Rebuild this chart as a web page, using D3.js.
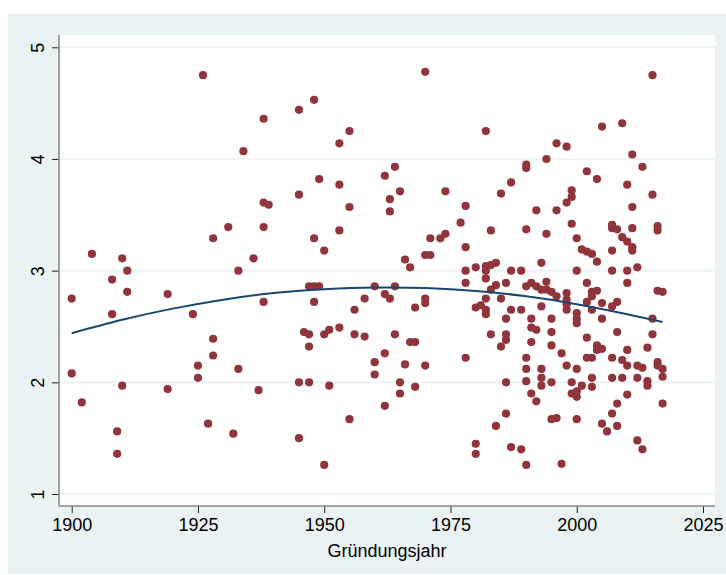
<!DOCTYPE html>
<html><head><meta charset="utf-8">
<script src="https://cdn.jsdelivr.net/npm/d3@7"></script>
<style>html,body{margin:0;padding:0;background:#fff}svg{display:block}</style>
</head><body>
<svg id="c" width="726" height="575"></svg>
<script>
const xTicks = [1900, 1925, 1950, 1975, 2000, 2025];
const yTicks = [1, 2, 3, 4, 5];
const xTitle = "Gründungsjahr";

const years = [
1926,1904,1910,1911,1928,1931,1908,1911,1900,1919,1908,1924,1928,1928,1925,1925,1900,1910,1919,1902,1927,1909,1909,1932,1933,
1934,1938,1945,1948,1953,1955,1962,1949,1953,1945,1938,1939,1955,1938,1948,1953,1950,1936,1933,
1938,1947,1948,1949,1948,1960,1962,1956,1958,1946,1947,1947,1950,1951,1953,1956,1958,1960,1960,1962,1945,1947,1937,1951,1955,1962,1945,1950,
1970,1982,1964,1965,1963,1963,1974,1978,1977,1983,1985,1987,1990,1990,1992,1990,1994,1994,1971,1973,1974,1970,1971,1966,1967,1978,1993,
1978,1978,1980,1982,1982,1983,1984,1982,1987,1989,1986,1983,1984,1982,1985,1980,1981,1982,1982,1987,1989,1986,1990,1991,1992,1993,1993,1991,1991,1992,1991,
1964,1963,1968,1970,1970,1964,1967,1968,1966,1970,1965,1965,1968,1978,1983,1986,1986,1985,1990,1990,1990,1986,1993,1993,1993,1991,1992,1986,1984,1980,1980,1987,1989,1990,
2015,2005,2009,1996,1998,2011,2013,2002,2004,2010,2015,1999,1999,1998,2011,1996,1999,2000,2007,2007,2008,2011,2016,2016,2009,2010,2011,2011,2001,2002,2003,2004,2007,2000,2007,2010,2012,
2010,2002,1994,1994,1995,1996,1998,1998,1998,1998,2000,2000,2000,2002,2003,2003,2004,2003,2005,2005,2007,2008,1995,1995,1995,1997,2002,2004,2005,2004,2003,2002,2008,2007,2010,2009,2010,
2015,2015,2014,2016,2017,2016,2016,2017,2017,2017,2012,2013,2012,2014,2014,2007,2009,2010,2008,2007,2008,2005,2006,2012,2013,2000,1995,1996,1997,1995,1999,1999,2000,2000,2001,2003,2003,1998,2000
];
const values = [
4.75,3.15,3.11,3.00,3.29,3.39,2.92,2.81,2.75,2.79,2.61,2.61,2.39,2.24,2.15,2.04,2.08,1.97,1.94,1.82,1.63,1.56,1.36,1.54,2.12,
4.07,4.36,4.44,4.53,4.14,4.25,3.85,3.82,3.77,3.68,3.61,3.59,3.57,3.39,3.29,3.36,3.18,3.11,3.00,
2.72,2.86,2.86,2.86,2.72,2.86,2.79,2.65,2.75,2.45,2.43,2.32,2.43,2.47,2.49,2.43,2.41,2.18,2.07,2.26,2.00,2.00,1.93,1.97,1.67,1.79,1.50,1.26,
4.78,4.25,3.93,3.71,3.64,3.53,3.71,3.58,3.43,3.36,3.69,3.79,3.95,3.92,3.54,3.37,4.00,3.33,3.29,3.29,3.33,3.14,3.14,3.10,3.03,3.21,3.07,
3.00,2.89,3.03,3.04,3.00,3.05,3.07,2.93,3.00,3.00,2.89,2.83,2.87,2.75,2.75,2.67,2.69,2.65,2.61,2.65,2.65,2.57,2.86,2.89,2.86,2.83,2.68,2.57,2.49,2.47,2.36,
2.86,2.75,2.67,2.75,2.71,2.43,2.36,2.36,2.16,2.15,2.00,1.90,1.96,2.22,2.43,2.43,2.38,2.32,2.22,2.12,2.01,2.00,2.12,2.04,1.97,1.90,1.83,1.72,1.61,1.45,1.36,1.42,1.40,1.26,
4.75,4.29,4.32,4.14,4.11,4.04,3.93,3.89,3.82,3.77,3.68,3.72,3.66,3.61,3.57,3.54,3.42,3.29,3.41,3.38,3.37,3.38,3.40,3.36,3.30,3.26,3.21,3.18,3.19,3.17,3.15,3.08,3.18,3.00,3.00,3.00,3.03,
2.89,2.89,2.90,2.83,2.81,2.77,2.80,2.74,2.70,2.65,2.62,2.57,2.53,2.72,2.77,2.81,2.82,2.65,2.71,2.57,2.68,2.72,2.57,2.45,2.33,2.26,2.40,2.33,2.30,2.29,2.22,2.22,2.45,2.22,2.29,2.20,2.15,
2.57,2.43,2.31,2.82,2.81,2.18,2.15,2.12,2.05,1.81,2.15,2.13,2.04,2.01,1.97,2.04,2.04,1.89,1.81,1.72,1.61,1.63,1.56,1.48,1.40,1.67,1.67,1.68,1.27,2.00,2.00,1.90,1.87,1.92,1.97,2.04,1.96,2.15,2.12
];
const fitYears  = [1900,1910,1920,1930,1940,1950,1960,1970,1980,1990,2000,2010,2017];
const fitValues = [2.44,2.56,2.66,2.74,2.80,2.833,2.849,2.844,2.818,2.77,2.70,2.61,2.54];

const svg = d3.select("#c");
const font = "'Liberation Sans', Arial, Helvetica, sans-serif";

// outer graph region
svg.append("rect").attr("x",8).attr("y",14).attr("width",718).attr("height",560).attr("fill","#EAF2F3");
// plot region
const PL=59, PR=715, PT=35, PB=506;
svg.append("rect").attr("x",PL).attr("y",PT).attr("width",PR-PL).attr("height",PB-PT).attr("fill","#fff");

const x = d3.scaleLinear().domain([1900,2025]).range([71.7,703]);
const y = d3.scaleLinear().domain([1,5]).range([494,47.3]);

// gridlines
svg.append("g").selectAll("line").data(yTicks).join("line")
  .attr("x1",PL).attr("x2",PR).attr("y1",d=>y(d)).attr("y2",d=>y(d))
  .attr("stroke","#EAF2F3").attr("stroke-width",1.6);

// points
svg.append("g").selectAll("circle").data(years.map((d,i)=>[d,values[i]])).join("circle")
  .attr("cx",d=>x(d[0])).attr("cy",d=>y(d[1])).attr("r",4.1).attr("fill","#90353B");

// fit line
const line = d3.line().x((d,i)=>x(fitYears[i])).y(d=>y(d)).curve(d3.curveNatural);
svg.append("path").attr("d",line(fitValues)).attr("fill","none").attr("stroke","#1A476F").attr("stroke-width",2);

// axes
const xa = svg.append("g").attr("transform",`translate(0,${PB})`)
  .call(d3.axisBottom(x).tickValues(xTicks).tickFormat(d3.format("d")).tickSize(7).tickPadding(4));
xa.select(".domain").remove();
xa.selectAll(".tick line").attr("stroke","#222").attr("stroke-width",1);
xa.selectAll(".tick text").attr("font-family",font).attr("font-size",18).attr("fill","#000").attr("dy","0.78em");

const ya = svg.append("g").attr("transform",`translate(${PL},0)`)
  .call(d3.axisLeft(y).tickValues(yTicks).tickFormat(d3.format("d")).tickSize(7).tickPadding(0));
ya.select(".domain").remove();
ya.selectAll(".tick line").attr("stroke","#222").attr("stroke-width",1);
ya.selectAll(".tick text").attr("font-family",font).attr("font-size",18).attr("fill","#000")
  .attr("text-anchor","middle").attr("x",null).attr("dy",null)
  .attr("transform","translate(-15,0) rotate(-90)");

svg.append("line").attr("x1",PL).attr("x2",PL).attr("y1",PT).attr("y2",PB).attr("stroke","#888").attr("stroke-width",1.6);
svg.append("line").attr("x1",PL).attr("x2",PR).attr("y1",PB).attr("y2",PB).attr("stroke","#888").attr("stroke-width",1.6);

svg.append("text").attr("x",(PL+PR)/2).attr("y",557).attr("text-anchor","middle")
  .attr("font-family",font).attr("font-size",18).attr("fill","#000").text(xTitle);
</script>
</body></html>
